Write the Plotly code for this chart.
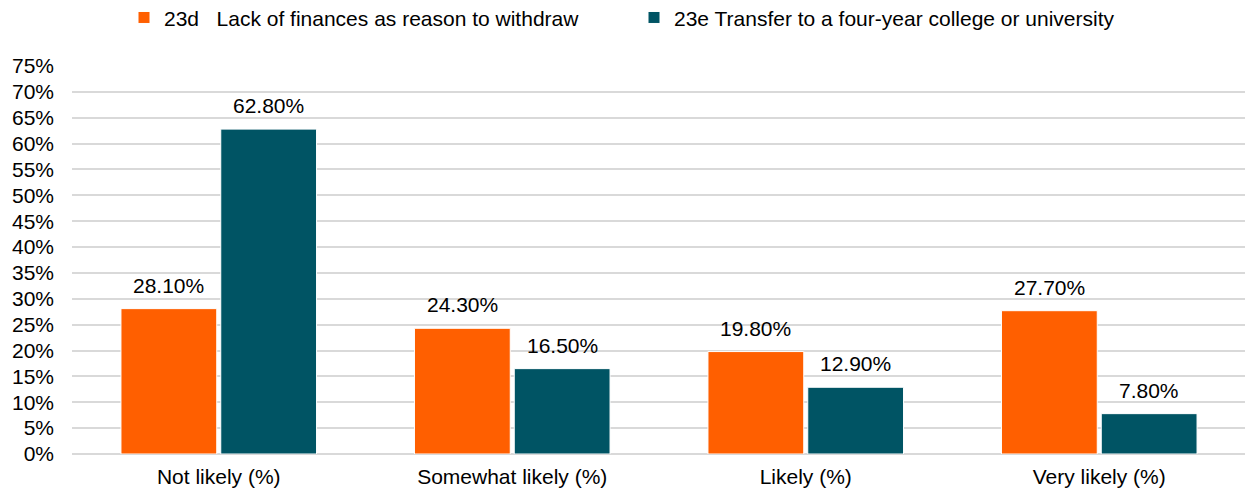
import plotly.graph_objects as go

categories = ["Not likely (%)", "Somewhat likely (%)", "Likely (%)", "Very likely (%)"]
series_names = ["23d\u00a0\u00a0\u00a0Lack of finances as reason to withdraw",
                "23e Transfer to a four-year college or university"]
lack_finances = [28.1, 24.3, 19.8, 27.7]
transfer = [62.8, 16.5, 12.9, 7.8]
tick_vals = list(range(0, 80, 5))
tick_text = [f"{v}%" for v in tick_vals]

colors = ["#FF5F00", "#005464"]
font = "Liberation Sans, Arial, sans-serif"
FS = 21
BARGAP = 0.32
GROUPGAP = 0.04

fig = go.Figure()
all_series = [lack_finances, transfer]
for k, (name, vals, col) in enumerate(zip(series_names, all_series, colors)):
    fig.add_trace(go.Bar(
        x=categories, y=vals, name=name,
        marker=dict(color=col, line=dict(color="white", width=1)),
        legend="legend" if k == 0 else "legend2",
        hovertemplate="%{x}: %{y:.2f}%<extra></extra>",
    ))

# value labels above bars (positioned on the category axis in data units)
slot = (1 - BARGAP) / 2
for k, vals in enumerate(all_series):
    off = -slot / 2 if k == 0 else slot / 2
    for i, v in enumerate(vals):
        fig.add_annotation(x=i + off, y=v, text=f"{v:.2f}%", showarrow=False,
                           yanchor="bottom", yshift=10,
                           font=dict(size=FS, color="#000000", family=font))

plot_left, plot_w = 72, 1174
fig.update_layout(
    width=1245, height=484,
    margin=dict(l=64, r=7, t=58, b=38, autoexpand=False),
    paper_bgcolor="white", plot_bgcolor="white",
    barmode="group", bargap=BARGAP, bargroupgap=GROUPGAP,
    font=dict(family=font, size=FS, color="#000000"),
    showlegend=True,
    legend=dict(orientation="h", x=(124 - plot_left) / plot_w, xanchor="left",
                y=1.177, yanchor="top", font=dict(size=FS), itemwidth=30),
    legend2=dict(orientation="h", x=(634 - plot_left) / plot_w, xanchor="left",
                 y=1.177, yanchor="top", font=dict(size=FS), itemwidth=30),
    xaxis=dict(showgrid=False, showline=False, ticks="", tickfont=dict(size=FS),
               ticklabelstandoff=8, automargin=False),
    yaxis=dict(range=[0, 75], tickvals=tick_vals, ticktext=tick_text,
               showgrid=True, gridcolor="#d9d9d9", gridwidth=1.8,
               zeroline=True, zerolinecolor="#d9d9d9", zerolinewidth=1.8,
               showline=False, ticks="", tickfont=dict(size=FS),
               ticklabelstandoff=17, automargin=False),
)
fig.write_html("out.html")
